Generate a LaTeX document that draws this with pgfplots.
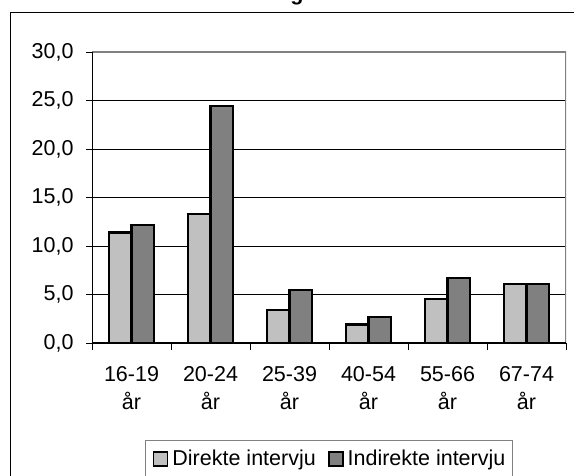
\documentclass[border=0pt]{standalone}
\usepackage{pgfplots}
\pgfplotsset{compat=1.18}
\usepackage{fontspec}
\setmainfont{Liberation Sans}

\definecolor{lys}{HTML}{C0C0C0}
\definecolor{mork}{HTML}{808080}

\pgfplotsset{
    sq legend/.style={
        legend image code/.code={
            \draw[##1,line width=1.8bp] (0bp,-7bp) rectangle (14bp,7bp);
        },
    },
}

\begin{document}
\begin{tikzpicture}[font=\fontsize{21.5bp}{27bp}\selectfont]
    % outer chart frame (cut off at right and bottom)
    \draw[black, line width=1bp] (10.5bp,-10bp) |- (590bp,463.5bp);
    \node[anchor=base, font=\fontsize{21.5bp}{23bp}\selectfont\bfseries] at (297bp,475bp) {g};

    \begin{axis}[
        at={(92bp,133bp)}, anchor=south west,
        scale only axis, width=474bp, height=291bp,
        ybar=0pt, bar width=22.5bp,
        xmin=-0.5, xmax=5.5, ymin=0, ymax=30,
        xtick={0,...,5},
        xticklabels={{16-19\\år},{20-24\\år},{25-39\\år},{40-54\\år},{55-66\\år},{67-74\\år}},
        minor xtick={-0.5,0.5,...,5.5},
        ytick={0,5,...,30},
        xtick pos=bottom, ytick pos=left,
        ticklabel style={font=\fontsize{21.5bp}{28bp}\selectfont},
        xticklabel style={align=center, yshift=-14bp},
        yticklabel style={
            /pgf/number format/fixed,
            /pgf/number format/fixed zerofill,
            /pgf/number format/precision=1,
            /pgf/number format/use comma,
            /pgf/number format/assume math mode=true,
            xshift=-9bp,
        },
        axis line style={draw=none},
        tick align=outside,
        tick style={black, line width=0.8bp},
        major tick length=6bp,
        minor tick length=7bp,
        major x tick style={draw=none},
        ymajorgrids,
        major grid style={black, line width=0.8bp},
        legend columns=2,
        legend cell align=left,
        legend style={
            at={(0.5,-0.333)}, anchor=north,
            draw=mork, line width=1bp,
            inner xsep=7bp, inner ysep=10bp,
            font=\fontsize{21.5bp}{23bp}\selectfont,
            nodes={inner sep=0pt},
            /tikz/every odd column/.style={column sep=4bp},
            /tikz/every even column/.style={column sep=12bp},
        },
    ]
        \addplot[sq legend, fill=lys, draw=black, line width=2.2bp] coordinates {
            (0,11.4) (1,13.3) (2,3.4) (3,1.9) (4,4.5) (5,6.1)
        };
        \addlegendentry{Direkte intervju}

        \addplot[sq legend, fill=mork, draw=black, line width=2.2bp] coordinates {
            (0,12.2) (1,24.4) (2,5.5) (3,2.7) (4,6.7) (5,6.1)
        };
        \addlegendentry{Indirekte intervju}

        % plot frame: grey top and right, black left and bottom
        \draw[mork, line width=1.5bp] (rel axis cs:0,1) -- (rel axis cs:1,1) -- (rel axis cs:1,0);
        \draw[black, line width=1bp] (rel axis cs:0,1) -- (rel axis cs:0,0) -- (rel axis cs:1,0);
    \end{axis}

    \pgfresetboundingbox
    \useasboundingbox (0,0) rectangle (574bp,476bp);
\end{tikzpicture}
\end{document}
